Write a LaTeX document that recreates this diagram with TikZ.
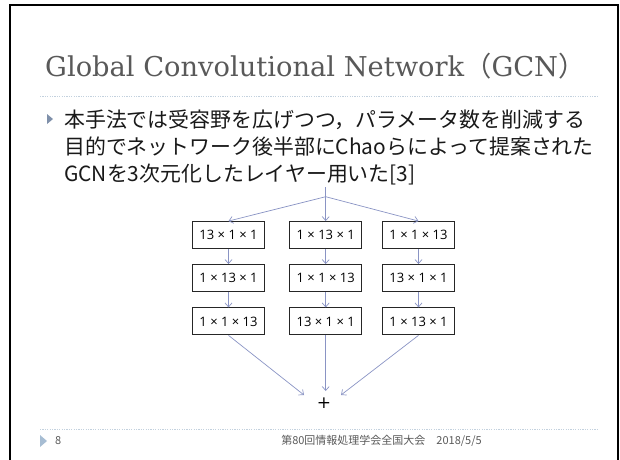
\documentclass[tikz,border=0pt]{standalone}
\usepackage{fontspec}
\setmainfont{DejaVu Serif}
\newfontfamily\jp{Noto Sans CJK JP}
\newfontfamily\boxfont{Open Sans}
\usetikzlibrary{arrows.meta}
\definecolor{arrowc}{HTML}{8A94C4}
\definecolor{titlec}{HTML}{595959}
\definecolor{dotc}{HTML}{C3D1DE}
\definecolor{bulletc}{HTML}{7F90AA}
\definecolor{footbullet}{HTML}{A7BDD3}
\tikzset{
  layerbox/.style={draw=black!85, line width=0.9pt, minimum width=72pt, minimum height=27pt, inner sep=0pt, font=\boxfont\fontsize{13}{15}\selectfont},
  conn/.style={draw=arrowc, line width=0.7pt},
  arr/.style={conn, -{Straight Barb[length=4pt,width=7pt]}},
  dotline/.style={draw=dotc, line width=1pt, dash pattern=on 1.2pt off 1.2pt},
  bodytext/.style={anchor=base west, inner sep=0pt, font=\jp\fontsize{20.9}{27}\selectfont, text=black!90}
}
\begin{document}
\begin{tikzpicture}[x=1pt,y=-1pt]
\useasboundingbox (0,0) rectangle (620,459);
% slide frame
\draw[line width=2pt] (10,470) -- (10,5) -- (618,5) -- (618,470);
% title
\node[anchor=base west, inner sep=0pt, text=titlec, font=\fontsize{27.3}{30}\selectfont] (title) at (45,76) {Global Convolutional Network{\jp （}GCN{\jp ）}};
\draw[dotline] (40,96) -- (597,96);
% bullet text
\fill[bulletc] (47,114) -- (53,119) -- (47,124) -- cycle;
\node[bodytext] (l1) at (64,127) {本手法では受容野を広げつつ，パラメータ数を削減する};
\node[bodytext] (l2) at (64,154) {目的でネットワーク後半部にChaoらによって提案された};
\node[bodytext] (l3) at (64,181) {GCNを3次元化したレイヤー用いた[3]};
% boxes
\node[layerbox] (a1) at (228.5,235) {13 × 1 × 1};
\node[layerbox] (b1) at (325.7,235) {1 × 13 × 1};
\node[layerbox] (c1) at (418.5,235) {1 × 1 × 13};
\node[layerbox] (a2) at (228.5,278) {1 × 13 × 1};
\node[layerbox] (b2) at (325.7,278) {1 × 1 × 13};
\node[layerbox] (c2) at (418.5,278) {13 × 1 × 1};
\node[layerbox] (a3) at (228.5,321.4) {1 × 1 × 13};
\node[layerbox] (b3) at (325.7,321.4) {13 × 1 × 1};
\node[layerbox] (c3) at (418.5,321.4) {1 × 13 × 1};
% input split
\coordinate (top) at (325.7,187);
\coordinate (br) at (325.7,196.7);
\draw[conn] (top) -- (br);
\draw[arr] (br) -- (a1.north);
\draw[arr] (br) -- (b1.north);
\draw[arr] (br) -- (c1.north);
\draw[arr] (a1) -- (a2);
\draw[arr] (a2) -- (a3);
\draw[arr] (b1) -- (b2);
\draw[arr] (b2) -- (b3);
\draw[arr] (c1) -- (c2);
\draw[arr] (c2) -- (c3);
% sum
\node[inner sep=0pt, font=\fontsize{17}{17}\selectfont] (plus) at (324,403) {+};
\coordinate (pl) at (304,395);
\coordinate (pm) at (325.7,391);
\coordinate (pr) at (341,395);
\draw[arr] (a3.south) -- (pl);
\draw[arr] (b3.south) -- (pm);
\draw[arr] (c3.south) -- (pr);
% footer
\draw[dotline] (40,429) -- (597,429);
\fill[footbullet] (40,435) -- (47,441) -- (40,447) -- cycle;
\node[anchor=west, inner sep=0pt, text=titlec, font=\jp\fontsize{11}{13}\selectfont] (pg) at (55,441) {8};
\node[inner sep=0pt, text=titlec, font=\jp\fontsize{11}{13}\selectfont] (foot) at (381.5,441) {第80回情報処理学会全国大会　2018/5/5};
\end{tikzpicture}
\end{document}
